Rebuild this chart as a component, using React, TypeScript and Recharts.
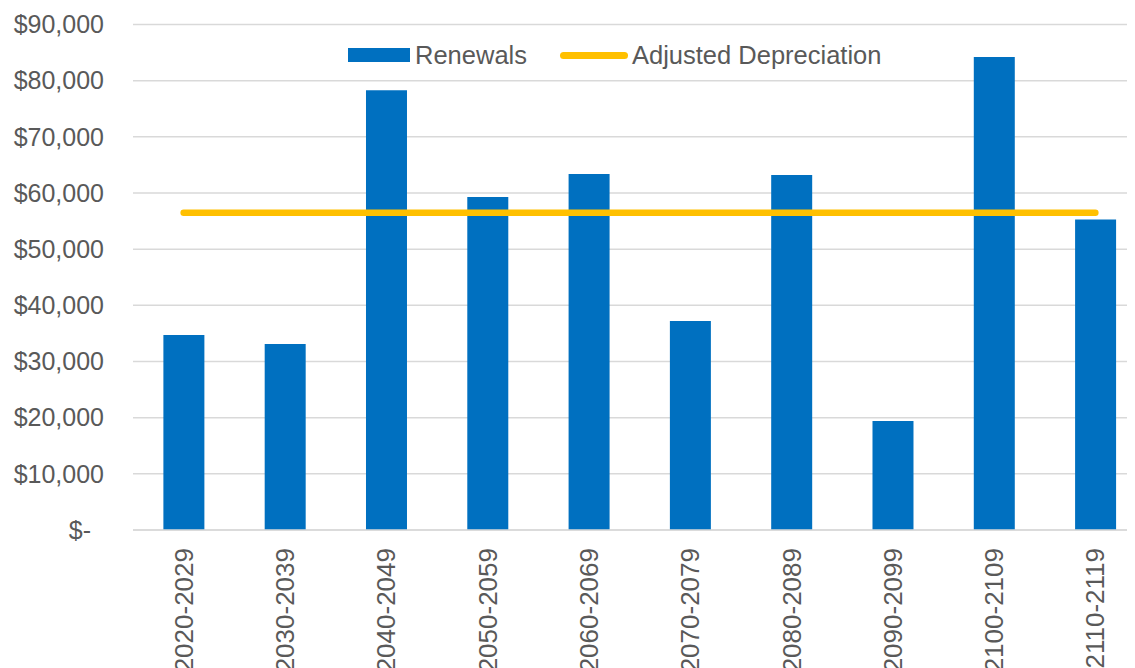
import { ComposedChart, Bar, Line, XAxis, YAxis, CartesianGrid, Legend } from "recharts";

const periods = [
  "2020-2029",
  "2030-2039",
  "2040-2049",
  "2050-2059",
  "2060-2069",
  "2070-2079",
  "2080-2089",
  "2090-2099",
  "2100-2109",
  "2110-2119",
];
const renewals = [34700, 33100, 78300, 59300, 63400, 37200, 63200, 19400, 84200, 55300];
const adjustedDepreciation = [56500, 56500, 56500, 56500, 56500, 56500, 56500, 56500, 56500, 56500];
const yTicks = [0, 10000, 20000, 30000, 40000, 50000, 60000, 70000, 80000, 90000];

const data = periods.map((period, i) => ({
  period,
  renewals: renewals[i],
  depreciation: adjustedDepreciation[i],
}));

const FONT = "Arial, 'Liberation Sans', sans-serif";
const TEXT = "#595959";
const BLUE = "#0070C0";
const GOLD = "#FFC000";

function money(v: number) {
  return v === 0 ? "$-" : "$" + v.toLocaleString("en-US");
}

function YTick(props: any) {
  const { x, y, payload } = props;
  const shift = payload.value === 0 ? -13 : 0;
  return (
    <text x={x + shift} y={y} dy="0.35em" textAnchor="end" fill={TEXT} fontSize={25} fontFamily={FONT}>
      {money(payload.value)}
    </text>
  );
}

function XTick(props: any) {
  const { x, y, payload } = props;
  return (
    <g transform={`translate(${x},${y})`}>
      <text transform="rotate(-90)" textAnchor="end" dy="0.35em" fill={TEXT} fontSize={26} fontFamily={FONT}>
        {payload.value}
      </text>
    </g>
  );
}

function LegendBox() {
  return (
    <div style={{ display: "flex", alignItems: "center", height: 30, fontFamily: FONT, fontSize: 25.5, color: TEXT }}>
      <span style={{ display: "inline-block", width: 62, height: 14, background: BLUE }} />
      <span style={{ marginLeft: 5 }}>Renewals</span>
      <span style={{ display: "inline-block", width: 68, height: 7, borderRadius: 4, background: GOLD, marginLeft: 33 }} />
      <span style={{ marginLeft: 4 }}>Adjusted Depreciation</span>
    </div>
  );
}

export default function App() {
  return (
    <div style={{ width: 1127, height: 660, overflow: "hidden", position: "relative" }}>
      <ComposedChart
        width={1138}
        height={700}
        data={data}
        margin={{ top: 16.5, right: 0, left: 0, bottom: 0 }}
        barCategoryGap="30%"
      >
        <CartesianGrid vertical={false} stroke="#D9D9D9" strokeWidth={1.5} />
        <XAxis
          dataKey="period"
          height={178}
          interval={0}
          tickLine={false}
          tickSize={0}
          tickMargin={18}
          axisLine={{ stroke: "#D9D9D9", strokeWidth: 1.5 }}
          tick={<XTick />}
        />
        <YAxis
          width={125}
          domain={[0, 90000]}
          ticks={yTicks}
          axisLine={false}
          tickLine={false}
          tickSize={0}
          tickMargin={29}
          tick={<YTick />}
        />
        <Legend
          verticalAlign="middle"
          align="center"
          layout="horizontal"
          wrapperStyle={{ top: 32, left: 340, width: 580, height: 30 }}
          content={<LegendBox />}
        />
        <Bar dataKey="renewals" name="Renewals" fill={BLUE} isAnimationActive={false} />
        <Line
          dataKey="depreciation"
          name="Adjusted Depreciation"
          stroke={GOLD}
          strokeWidth={6.5}
          strokeLinecap="round"
          dot={false}
          activeDot={false}
          isAnimationActive={false}
        />
      </ComposedChart>
    </div>
  );
}
